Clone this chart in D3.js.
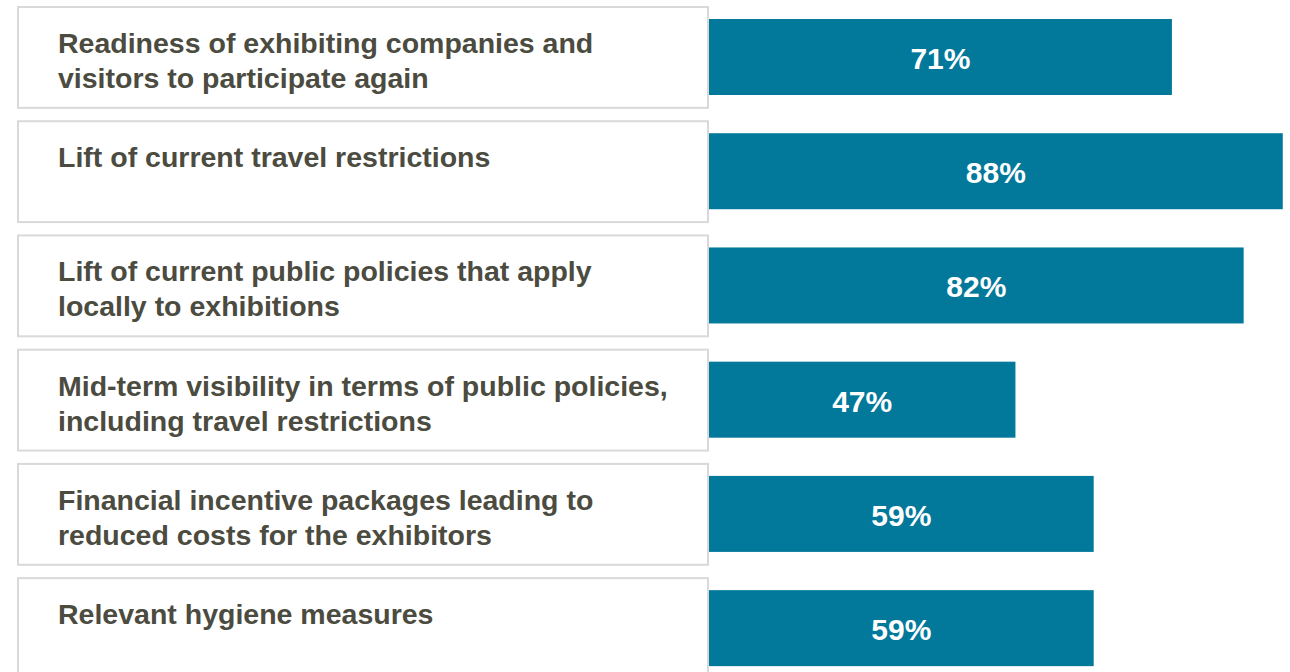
<!DOCTYPE html>
<html>
<head>
<meta charset="utf-8">
<script src="https://cdn.jsdelivr.net/npm/d3@7"></script>
<style>
  html, body { margin: 0; padding: 0; background: #ffffff; }
  svg { display: block; }
</style>
</head>
<body>
<svg id="chart" width="1290" height="672"></svg>
<script>
const categories = [
  "Readiness of exhibiting companies and visitors to participate again",
  "Lift of current travel restrictions",
  "Lift of current public policies that apply locally to exhibitions",
  "Mid-term visibility in terms of public policies, including travel restrictions",
  "Financial incentive packages leading to reduced costs for the exhibitors",
  "Relevant hygiene measures"
];
const labelLines = [
  ["Readiness of exhibiting companies and", "visitors to participate again"],
  ["Lift of current travel restrictions"],
  ["Lift of current public policies that apply", "locally to exhibitions"],
  ["Mid-term visibility in terms of public policies,", "including travel restrictions"],
  ["Financial incentive packages leading to", "reduced costs for the exhibitors"],
  ["Relevant hygiene measures"]
];
const values = [71, 88, 82, 47, 59, 59];

const svg = d3.select("#chart");
const font = "'Liberation Sans', Arial, Helvetica, sans-serif";

const y = d3.scaleBand()
  .domain(categories)
  .range([7, 679])
  .paddingInner(0.117)
  .paddingOuter(0);

const x = d3.scaleLinear()
  .domain([0, 100])
  .range([709, 1361]);

const rows = svg.selectAll("g.row")
  .data(categories.map((c, i) => ({ c, v: values[i], lines: labelLines[i] })))
  .join("g")
  .attr("class", "row");

// label boxes
rows.append("rect")
  .attr("x", 18)
  .attr("y", d => y(d.c))
  .attr("width", 690)
  .attr("height", y.bandwidth())
  .attr("fill", "#ffffff")
  .attr("stroke", "#d9d9d9")
  .attr("stroke-width", 2);

// label text
rows.append("text")
  .attr("x", 58)
  .attr("y", d => y(d.c) + 46)
  .attr("font-family", font)
  .attr("font-weight", "bold")
  .attr("font-size", 28.5)
  .attr("fill", "#4b4b3f")
  .selectAll("tspan")
  .data(d => d.lines)
  .join("tspan")
  .attr("x", 58)
  .attr("dy", (l, i) => i === 0 ? 0 : 35)
  .text(l => l);

// bars
const barOffset = 12;
const barH = 76;
rows.append("rect")
  .attr("x", x(0))
  .attr("y", d => y(d.c) + barOffset)
  .attr("width", d => x(d.v) - x(0))
  .attr("height", barH)
  .attr("fill", "#02789a");

// value labels
rows.append("text")
  .attr("x", d => (x(0) + x(d.v)) / 2)
  .attr("y", d => y(d.c) + barOffset + barH / 2 + 12)
  .attr("text-anchor", "middle")
  .attr("font-family", font)
  .attr("font-weight", "bold")
  .attr("font-size", 30)
  .attr("fill", "#ffffff")
  .text(d => d.v + "%");
</script>
</body>
</html>
